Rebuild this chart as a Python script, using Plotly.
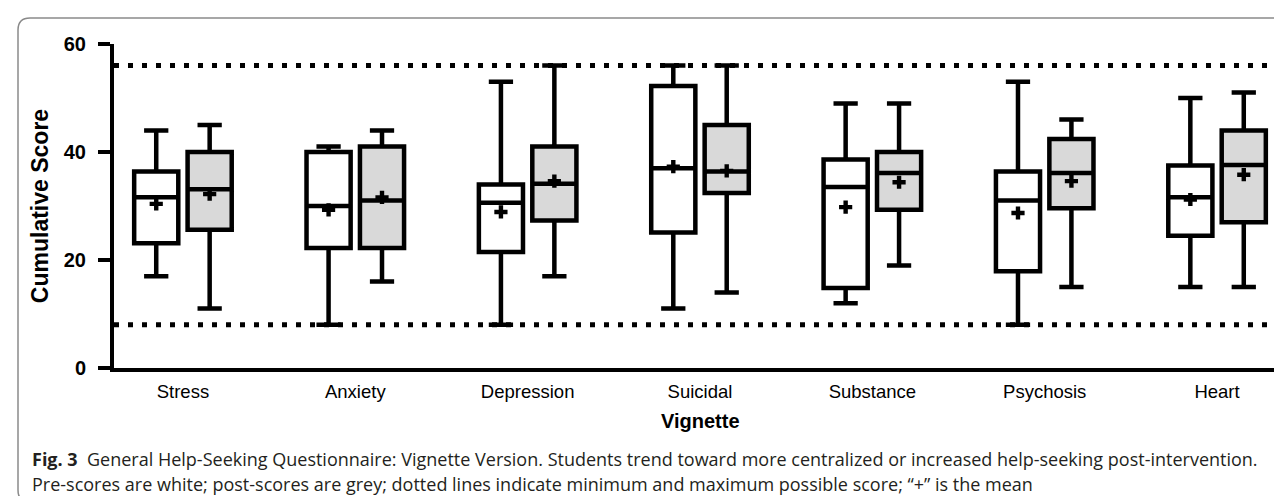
import numpy as np
import plotly.graph_objects as go

# ---- data ----
categories = ["Stress", "Anxiety", "Depression", "Suicidal", "Substance", "Psychosis", "Heart"]

pre_lower  = [17, 8, 8, 11, 12, 8, 15]
pre_q1     = [23.1, 22.2, 21.5, 25.1, 14.8, 17.9, 24.5]
pre_median = [31.6, 30.0, 30.6, 37.0, 33.5, 31.0, 31.6]
pre_q3     = [36.4, 40.0, 34.0, 52.2, 38.6, 36.4, 37.5]
pre_upper  = [44, 41, 53, 56, 49, 53, 50]
pre_mean   = [30.4, 29.3, 28.9, 37.3, 29.8, 28.7, 31.2]

post_lower  = [11, 16, 17, 14, 19, 15, 15]
post_q1     = [25.6, 22.2, 27.3, 32.4, 29.3, 29.6, 27.0]
post_median = [33.1, 31.0, 34.1, 36.4, 36.1, 36.1, 37.6]
post_q3     = [40.0, 41.0, 41.0, 45.0, 40.0, 42.4, 44.0]
post_upper  = [45, 44, 56, 56, 49, 46, 51]
post_mean   = [32.2, 31.6, 34.6, 36.5, 34.4, 34.6, 35.8]

MIN_SCORE = 8
MAX_SCORE = 56
y_ticks = [0, 20, 40, 60]

caption_line1 = ("<b>Fig. 3</b>  General Help-Seeking Questionnaire: Vignette Version. "
                 "Students trend toward more centralized or increased help-seeking post-intervention.")
caption_line2 = ("Pre-scores are white; post-scores are grey; dotted lines indicate minimum and "
                 "maximum possible score; \u201c+\u201d is the mean")

# ---- layout constants ----
W, H = 1282, 496
ML, MR, MT, MB = 106, 4, 36, 136
PW = W - ML - MR
PH = H - MT - MB
OFFSET = 0.155
BOX_W = 0.256
ARIAL = "Liberation Sans, Arial, sans-serif"

idx = np.arange(len(categories))
x_pre = idx - OFFSET
x_post = idx + OFFSET

def px_x(p):
    return (p - ML) / PW

def px_y(p):
    return (H - MB - p) / PH

fig = go.Figure()

box_common = dict(
    width=BOX_W,
    whiskerwidth=0.55,
    boxpoints=False,
    line=dict(color="black", width=4.5),
    hoverinfo="skip",
    showlegend=False,
)

fig.add_trace(go.Box(
    x=x_pre, q1=pre_q1, median=pre_median, q3=pre_q3,
    lowerfence=pre_lower, upperfence=pre_upper,
    fillcolor="white", name="Pre", **box_common))
fig.add_trace(go.Box(
    x=x_post, q1=post_q1, median=post_median, q3=post_q3,
    lowerfence=post_lower, upperfence=post_upper,
    fillcolor="#d9d9d9", name="Post", **box_common))

mean_marker = dict(symbol="cross", size=11, color="black", line=dict(width=0))
fig.add_trace(go.Scatter(x=x_pre, y=pre_mean, mode="markers", marker=mean_marker,
                         showlegend=False, hoverinfo="skip"))
fig.add_trace(go.Scatter(x=x_post, y=post_mean, mode="markers", marker=mean_marker,
                         showlegend=False, hoverinfo="skip"))

shapes = []
for yv in (MIN_SCORE, MAX_SCORE):
    shapes.append(dict(type="line", xref="paper", yref="y", x0=0.0, x1=0.993,
                       y0=yv, y1=yv, line=dict(color="black", width=5, dash="5px,9px"),
                       layer="below"))

# rounded frame around figure + caption
xL, xR = px_x(10), px_x(1295)
yT, yB = px_y(10), px_y(494)
rx, ry = 12 / PW, 12 / PH
path = (f"M {xL+rx},{yT} L {xR},{yT} L {xR},{yB} L {xL+rx},{yB} "
        f"Q {xL},{yB} {xL},{yB+ry} L {xL},{yT-ry} Q {xL},{yT} {xL+rx},{yT} Z")
shapes.append(dict(type="path", xref="paper", yref="paper", path=path,
                   line=dict(color="#8a8a8a", width=1.5), layer="below"))

cap_font = dict(family="Open Sans, sans-serif", size=18, color="#231f20")
annotations = [
    dict(text="<b>Vignette</b>", xref="paper", yref="paper", x=0.5, y=px_y(413),
         xanchor="center", yanchor="middle", showarrow=False,
         font=dict(family=ARIAL, size=20, color="black")),
    dict(text=caption_line1, xref="paper", yref="paper", x=px_x(22), y=px_y(451),
         xanchor="left", yanchor="middle", showarrow=False, align="left", font=cap_font),
    dict(text=caption_line2, xref="paper", yref="paper", x=px_x(22), y=px_y(476),
         xanchor="left", yanchor="middle", showarrow=False, align="left", font=cap_font),
]

fig.update_layout(
    width=W, height=H,
    margin=dict(l=ML, r=MR, t=MT, b=MB, autoexpand=False),
    paper_bgcolor="white", plot_bgcolor="white",
    boxmode="overlay",
    shapes=shapes,
    annotations=annotations,
    xaxis=dict(
        range=[-0.4, len(categories) - 0.6],
        tickvals=idx, ticktext=categories,
        showline=True, linecolor="black", linewidth=4,
        ticks="", showgrid=False, zeroline=False,
        ticklabelstandoff=4,
        tickfont=dict(family=ARIAL, size=18.5, color="black"),
    ),
    yaxis=dict(
        range=[0, 60], tickvals=y_ticks,
        showline=True, linecolor="black", linewidth=4,
        ticks="outside", ticklen=12, tickwidth=4, tickcolor="black",
        showgrid=False, zeroline=False,
        ticklabelstandoff=8,
        tickfont=dict(family=ARIAL, size=20, color="black", weight="bold"),
        title=dict(text="Cumulative Score", standoff=10,
                   font=dict(family=ARIAL, size=23, color="black", weight="bold")),
        automargin=False,
    ),
)

fig.write_html("out.html")
